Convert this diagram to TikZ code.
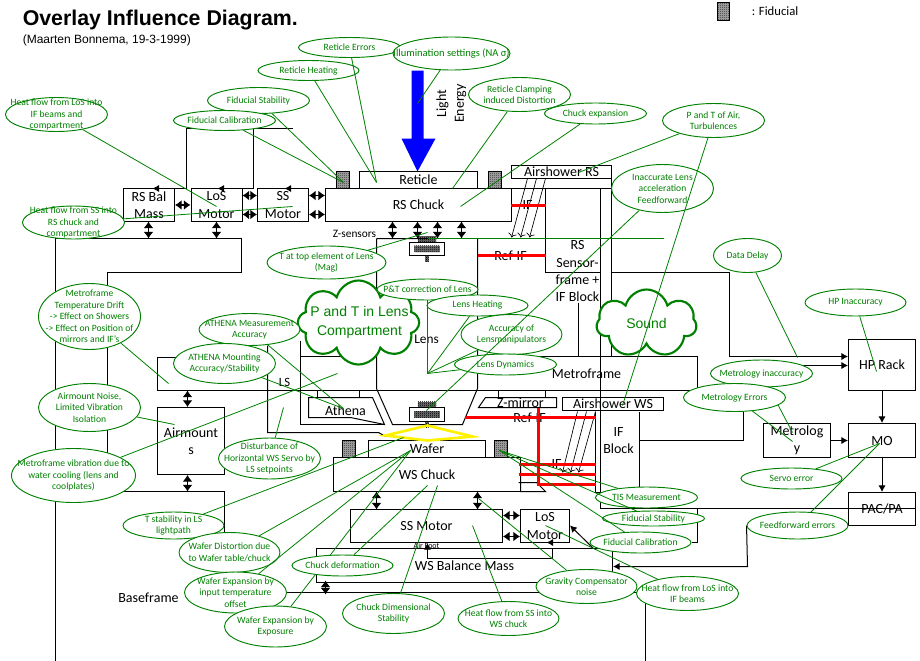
\documentclass[tikz,border=0pt]{standalone}
\usepackage{fontspec}
\setmainfont{Carlito}
\newfontfamily\arialfont{Liberation Sans}
\usetikzlibrary{arrows.meta, patterns, shapes.geometric, shapes.symbols}
\pgfdeclarelayer{base}
\pgfsetlayers{base,main}
\definecolor{leadgreen}{RGB}{0,128,0}
\pgfdeclarepatternformonly{finedots}{\pgfqpoint{0pt}{0pt}}{\pgfqpoint{1.5pt}{1.5pt}}{\pgfqpoint{1.5pt}{1.5pt}}{
  \pgfpathrectangle{\pgfpointorigin}{\pgfqpoint{0.75pt}{0.75pt}}
  \pgfusepath{fill}
}
\pgfdeclarepatternformonly{finechecks}{\pgfqpoint{0pt}{0pt}}{\pgfqpoint{1.5pt}{1.5pt}}{\pgfqpoint{1.5pt}{1.5pt}}{
  \pgfpathrectangle{\pgfpointorigin}{\pgfqpoint{0.75pt}{0.75pt}}
  \pgfpathrectangle{\pgfqpoint{0.75pt}{0.75pt}}{\pgfqpoint{0.75pt}{0.75pt}}
  \pgfusepath{fill}
}

\tikzset{
  block/.style = {draw, line width = 0.75pt, inner sep = 0},
  blocktext/.style = {align = center, font = \fontsize{10.5}{13}\selectfont, inner sep = 0},
  smalltext/.style = {align = center, font = \fontsize{8.5}{10}\selectfont, inner sep = 0},
  bubble/.style = {draw = leadgreen, fill = white, ellipse, line width = 0.7pt, inner sep = 0},
  bubbletext/.style = {align = center, text = leadgreen, inner sep = 0,
    font = \fontsize{7.2}{8.6}\selectfont},
  puff/.style = {draw = leadgreen, fill = white, cloud, cloud ignores aspect,
    line width = 1.6pt, inner sep = 0},
  puffsym/.style = {align = center, text = leadgreen, inner sep = 0,
    font = \arialfont\fontsize{10.5}{14}\selectfont},
  leader/.style = {leadgreen, line width = 0.6pt},
  frame/.style = {line width = 0.75pt},
  rail/.style = {red, line width = 1.6pt},
  fidmark/.style = {draw, line width = 0.5pt, preaction = {fill = black!40}, pattern = finedots},
  senmark/.style = {inner sep = 0, preaction = {fill = black!55}, pattern = finechecks},
  tip/.style = {-{Latex[length = 5pt, width = 5.5pt]}, line width = 0.75pt},
  beam/.style = {-{To[length = 3pt]}, line width = 0.5pt},
  dbl/.style = {{Latex[length = 5pt, width = 7.5pt]}-{Latex[length = 5pt, width = 7.5pt]}, line width = 0.9pt}
}

\begin{document}
\begin{tikzpicture}[x = 0.75pt, y = -0.75pt]
  \useasboundingbox (-0.5, -0.5) rectangle (919.5, 659.5);

  \node[anchor = west, inner sep = 0, font = \arialfont\bfseries\fontsize{16}{18}\selectfont] (title) at (22, 20) {Overlay Influence Diagram.};
  \node[anchor = west, inner sep = 0, font = \arialfont\fontsize{9}{10}\selectfont] (subtitle) at (22, 40) {(Maarten Bonnema, 19-3-1999)};
  \node[fidmark, minimum width = 9pt, minimum height = 13pt] (legendMark) at (723, 11) {};
  \node[anchor = west, smalltext, font = \fontsize{9.5}{11}\selectfont] (legendText) at (751, 11) {: Fiducial};

  % ellipses and clouds
  \node[puff, cloud puffs = 8, minimum width = 91pt, minimum height = 63pt] (lensCloud) at (358, 322) {};
  \node[puffsym] (lensCloudText) at (359, 322) {P and T in Lens\\Compartment};
  \node[blocktext, font = \fontsize{10}{12}\selectfont] (lensLabel) at (426, 339) {Lens};
  \node[puff, cloud puffs = 7, minimum width = 75pt, minimum height = 51pt] (soundCloud) at (646, 323) {};
  \node[puffsym] (soundCloudText) at (soundCloud) {Sound};

  \foreach \n/\x/\y/\w/\h/\txt in {
    retErr/349/47/102/20/{Reticle Errors},
    illum/451/53/117/33/{\fontsize{7.9}{9}\selectfont Illumination settings (NA σ)},
    retHeat/308/70/101/20/{Reticle Heating},
    fidStabT/258/100/102/26/{Fiducial Stability},
    fidCalT/224/120/102/20/{Fiducial Calibration},
    hfLosT/56/114/102/34/{Heat flow from LoS into\\IF beams and\\compartment},
    hfSsT/73/222/102/33/{Heat flow from SS into\\RS chuck and\\compartment},
    retClamp/519/94/102/34/{Reticle Clamping\\induced Distortion},
    chuckExp/595/113/102/21/{Chuck expansion},
    airPT/713/120/102/34/{P and T of Air,\\Turbulences},
    lensFF/662/188/102/48/{Inaccurate Lens\\acceleration\\Feedforward},
    topElem/326/262/119/33/{T at top element of Lens\\(Mag)},
    ptCorr/427/289/101/21/{P\&T correction of Lens},
    lensHeat/477/305/101/21/{Lens Heating},
    lensAcc/511/334/101/40/{Accuracy of\\Lensmanipulators},
    lensDyn/505/364/102/21/{Lens Dynamics},
    dataDelay/747/255/68/34/{Data Delay},
    hpInacc/855/302/101/27/{HP Inaccuracy},
    metInacc/761/373/102/27/{Metrology inaccuracy},
    metErr/734/397/102/28/{Metrology Errors},
    tempDrift/89/316/102/66/{Metroframe\\Temperature Drift\\-> Effect on Showers\\-> Effect on Position of\\mirrors and IF's},
    airNoise/89/407/102/48/{Airmount Noise,\\Limited Vibration\\Isolation},
    athMeas/249/329/101/32/{ATHENA Measurement\\Accuracy},
    athMount/224/363/102/40/{ATHENA Mounting\\Accuracy/Stability},
    lsDist/269/458/102/41/{Disturbance of\\Horizontal WS Servo by\\LS setpoints},
    waterVib/73/475/124/54/{Metroframe vibration due to\\water cooling (lens and\\coolplates)},
    lsTemp/173/525/101/27/{T stability in LS\\lightpath},
    waferDist/229/552/101/40/{Wafer Distortion due\\to Wafer table/chuck},
    waferInput/235/592/102/41/{Wafer Expansion by\\input temperature\\offset},
    waferExpo/275/626/102/41/{Wafer Expansion by\\Exposure},
    chuckDef/342/565/101/21/{Chuck deformation},
    chuckDim/393/613/102/40/{Chuck Dimensional\\Stability},
    hfSsB/508/618/101/34/{Heat flow from SS into\\WS chuck},
    gravComp/586/586/101/34/{Gravity Compensator\\noise},
    hfLosB/687/593/102/34/{Heat flow from LoS into\\IF beams},
    tisMeas/646/497/102/21/{TIS Measurement},
    fidStabB/653/518/102/15/{Fiducial Stability},
    fidCalB/640/542/101/21/{Fiducial Calibration},
    servoErr/791/478/101/21/{Servo error},
    ffErr/797/525/101/27/{Feedforward errors}}{
    \node[bubble, minimum width = \w*0.75pt, minimum height = \h*0.75pt] (\n) at (\x, \y) {};
    \node[bubbletext] (\n Text) at (\n) {\txt};
  }

  % free ends of the leaders
  \foreach \n/\x/\y in {
    ptReticle/376/182, ptFidL/343/182, ptLight/417/103, ptClamp/452/188, ptChuck/460/206,
    ptLosRs/216/206, ptSsRs/292/206, ptAirRs/578/172, ptAirWs/622/405, ptLensTop/427/232,
    ptLens/427/373, ptLensLow/426/410, ptHp/876/371, ptDelay/797/357, ptMetA/792/432,
    ptMetB/792/441, ptFrame/168/383, ptMount/174/424, ptAth/343/408, ptVib/337/373,
    ptLs/283/407, ptLsPath/403/437, ptWafer/410/450, ptDef/427/485, ptDim/437/485,
    ptSsWs/472/525, ptGrav/478/498, ptLosWs/545/525, ptFidR/499/450, ptMo/879/443}{
    \coordinate (\n) at (\x, \y);
  }

  \foreach \a/\b in {
    retErr/ptReticle, retHeat/ptReticle, illum/ptLight, fidStabT/ptFidL, fidCalT/ptFidL,
    hfLosT/ptLosRs, hfSsT/ptSsRs, retClamp/ptClamp, chuckExp/ptChuck, airPT/ptAirRs,
    airPT/ptAirWs, lensFF/ptLensLow, topElem/ptLensTop, ptCorr/ptLens, lensHeat/ptLens,
    lensAcc/ptLens, lensDyn/ptLens, dataDelay/ptDelay, hpInacc/ptHp, metErr/ptMetB,
    tempDrift/ptFrame, airNoise/ptMount, athMeas/ptAth, athMount/ptAth, waterVib/ptVib,
    lsDist/ptLs, lsTemp/ptLsPath, waferDist/ptWafer, waferInput/ptWafer, chuckDef/ptDef,
    chuckDim/ptDim, hfSsB/ptSsWs, gravComp/ptGrav, hfLosB/ptLosWs, tisMeas/ptFidR,
    fidStabB/ptFidR, fidCalB/ptFidR, servoErr/ptMo, ffErr/ptMo}{
    \draw[leader] (\a) -- (\b);
  }

  \begin{pgfonlayer}{base}
    \foreach \n/\x/\y/\w/\h/\txt in {
      rsBal/148.5/204.5/51/33/{RS Bal\\Mass},
      losRs/216/204.5/51/33/{LoS\\Motor},
      ssRs/282.5/204.5/51/33/{SS\\Motor},
      rsChuck/418/204.5/186/33/{RS Chuck},
      reticle/418/179.5/118/17/{Reticle},
      airRs/561/171.5/100/13/{Airshower RS},
      airmount/190.5/440.5/67/67/{Airmount\\s},
      wafer/426.5/448.5/117/17/{Wafer},
      wsChuck/426.5/474/187/34/{WS Chuck},
      ssWs/426/525.5/152/33/{SS Motor},
      losWs/544.5/525.5/49/33/{LoS\\Motor},
      wsBal/464/565/296/34/{WS Balance Mass},
      hpRack/881.5/364.5/67/51/{HP Rack},
      moBox/881.5/440/67/34/{MO},
      pacBox/881.5/508.5/67/33/{PAC/PA},
      metBox/796.5/440/67/34/{Metrolog\\y},
      airWs/612.5/403.5/101/13/{Airshower WS}}{
      \node[block, minimum width = \w*0.75pt, minimum height = \h*0.75pt] (\n) at (\x, \y) {};
      \node[blocktext] (\n Text) at (\n) {\txt};
    }

    \foreach \n/\x/\y in {fidTL/342.5/179.5, fidTR/494.5/179.5, fidBL/348.5/448.5, fidBR/500.5/448.5}{
      \node[fidmark, minimum width = 9.5pt, minimum height = 12.5pt] (\n) at (\x, \y) {};
    }

    % z-sensors on the lens
    \foreach \n/\y in {senTop/248.5, senLow/414}{
      \node[block, minimum width = 26pt, minimum height = 10pt] (\n) at (426.5, \y) {};
      \node[senmark, minimum width = 19pt, minimum height = 5pt] (\n Spot) at (\n) {};
      \node[senmark, minimum width = 14pt, minimum height = 4pt, anchor = south] (\n Head) at (\n.north) {};
      \node[senmark, minimum width = 2.5pt, minimum height = 4pt, anchor = north] (\n Tail) at (\n.south) {};
    }

    \node[blocktext] (lightLabel) at (442, 103) [rotate = 90] {Light};
    \node[blocktext] (energyLabel) at (460, 103) [rotate = 90] {Energy};
    \node[smalltext] (zLabel) at (354, 233) {Z-sensors};
    \node[smalltext, font = \fontsize{9.5}{11}\selectfont] (lsLabel) at (284, 382) {LS};
    \node[blocktext] (frameLabel) at (586, 373) {Metroframe};
    \node[blocktext] (athLabel) at (345, 410) {Athena};
    \node[blocktext] (zMirror) at (520, 402) {Z-mirror};
    \node[blocktext] (refTop) at (510, 255) {Ref-IF};
    \node[blocktext] (refLow) at (529, 417) {Ref-IF};
    \node[blocktext] (ifTop) at (527, 205) {IF};
    \node[blocktext] (ifLow) at (556, 464) {IF};
    \node[blocktext] (sensorLabel) at (577, 271) {RS\\Sensor-\\frame +\\IF Block};
    \node[blocktext] (ifBlock) at (618, 440) {IF\\Block};
    \node[blocktext] (baseLabel) at (148, 597) {Baseframe};
    \node[smalltext, font = \fontsize{6}{7}\selectfont] (footLabel) at (426, 545) {Air Foot};

    \fill[fill = blue] (411, 70) -- (423, 70) -- (423, 138) -- (435, 138) -- (417, 171)
    -- (401, 138) -- (411, 138) -- cycle;

    \draw[frame] (55, 660) -- (55, 238) -- (241, 238) -- (241, 272) -- (107, 272) -- (107, 491)
    -- (224, 491) -- (224, 592) -- (645, 592) -- (645, 660);
    \draw[frame] (376, 238) -- (430, 238) (376, 238) -- (376, 388) -- (392, 424) -- (462, 424) -- (477, 388) -- (477, 238);
    \draw[frame] (300, 356) -- (376, 356) (477, 356) -- (697, 356) -- (697, 390) -- (157, 390) -- (157, 357) -- (200, 357);
    \draw[frame] (300, 340) -- (300, 424) -- (384, 424);
    \draw[frame] (267, 345) -- (267, 432) -- (378, 432) -- (385, 436);
    \draw[frame] (308, 397) -- (372, 397) -- (384, 424) -- (350, 417) -- (308, 417) -- cycle;
    \draw[frame] (478, 407) -- (485, 397) -- (556, 397) -- (556, 407) -- cycle;
    \foreach \x in {317, 359, 498, 545}{
      \draw[line width = 1.2pt] (\x, 390) -- (\x, 397);
    }
    \draw[frame] (510, 188) -- (611, 188) (545, 188) -- (545, 272) -- (600, 272);
    \draw[frame] (600, 188) -- (600, 508) -- (915, 508);
    \draw[frame] (611, 178) -- (611, 356) (611, 272) -- (729, 272) -- (729, 356);
    \draw[frame] (578, 302) -- (578, 356);
    \draw[frame] (639, 411) -- (639, 490) (639, 440) -- (743, 440) -- (743, 410);
    \draw[frame] (595, 411) -- (595, 492) -- (600, 492);
    \draw[frame] (520, 464) -- (520, 491) -- (545, 491) -- (536, 482) -- (518, 482);
    \draw[frame] (697, 508) -- (697, 542) -- (691, 542);
    \draw[frame] (186, 188) -- (186, 127.5) -- (292, 127.5) (253, 127.5) -- (253, 188);

    % arrows of the control loops
    \draw[tip] (186, 188) -- (152, 188);
    \draw[tip] (253, 188) -- (217, 188);
    \draw[tip] (292, 188) -- (284, 188);
    \draw[tip] (729, 356) -- (hpRack.west |- 0, 356);
    \draw[tip] (780, 365) -- (hpRack.west |- 0, 365);
    \draw[tip] (hpRack) -- (moBox);
    \draw[tip] (moBox) -- (pacBox);
    \draw[tip] (metBox) -- (moBox);
    \draw[tip] (ffErr.west) -- (747, 566) -- (wsBal.east |- 0, 566);
    \draw[tip] (552, 548) -- (552, 558) -- (427, 558) -- (ssWs.south -| 427, 0);
    \draw[tip] (560, 542) -- (546, 542);
    \draw[tip] (593, 548) -- (losWs.east |- 0, 525);

    \draw[dbl] (rsBal.east) -- (losRs.west);
    \draw[dbl] (losRs.20) -- (ssRs.160);
    \draw[dbl] (losRs.-20) -- (ssRs.-160);
    \draw[dbl] (ssRs.20) -- (ssRs.20 -| rsChuck.west);
    \draw[dbl] (ssRs.-20) -- (ssRs.-20 -| rsChuck.west);
    \draw[dbl] (148, 221) -- (148, 238);
    \draw[dbl] (216, 221) -- (216, 238);
    \foreach \x in {392, 417, 437, 461}{
      \draw[dbl] (\x, 221) -- (\x, 238);
    }
    \draw[dbl] (187, 390) -- (airmount.north -| 187, 0);
    \draw[dbl] (airmount.south -| 187, 0) -- (187, 491);
    \draw[dbl] (376, 491) -- (376, 509);
    \draw[dbl] (477, 491) -- (477, 509);
    \draw[dbl] (ssWs.east |- 0, 515) -- (losWs.west |- 0, 515);
    \draw[dbl] (ssWs.east |- 0, 536) -- (losWs.west |- 0, 536);
    \draw[dbl] (325, 580) -- (325, 594);

    % interferometer beams
    \foreach \x/\X in {527/511, 536/520, 545/529}{
      \draw[beam] (\x, 178) -- (\X, 237);
    }
    \foreach \x/\X in {577/562, 586/570, 595/578}{
      \draw[beam] (\x, 411) -- (\X, 472);
    }
    \draw[rail] (510, 205) -- (545, 205);
    \draw[rail] (477, 255) -- (545, 255);
    \draw[rail] (464, 417) -- (595, 417);
    \draw[rail] (538, 407) -- (538, 484) -- (595, 484);
    \draw[rail] (518, 464) -- (595, 464);
    \draw[rail] (518, 474) -- (595, 474);
    \draw[yellow, line width = 2pt] (385, 435) -- (427, 425) -- (472, 436) -- (427, 440) -- cycle;

    % hidden behind other ellipses
    \draw[leader] (metInacc) -- (ptMetA);
    \draw[leader] (waferExpo) -- (ptWafer);
    \draw[leader] (427, 238) -- (663, 238);
  \end{pgfonlayer}
\end{tikzpicture}
\end{document}
